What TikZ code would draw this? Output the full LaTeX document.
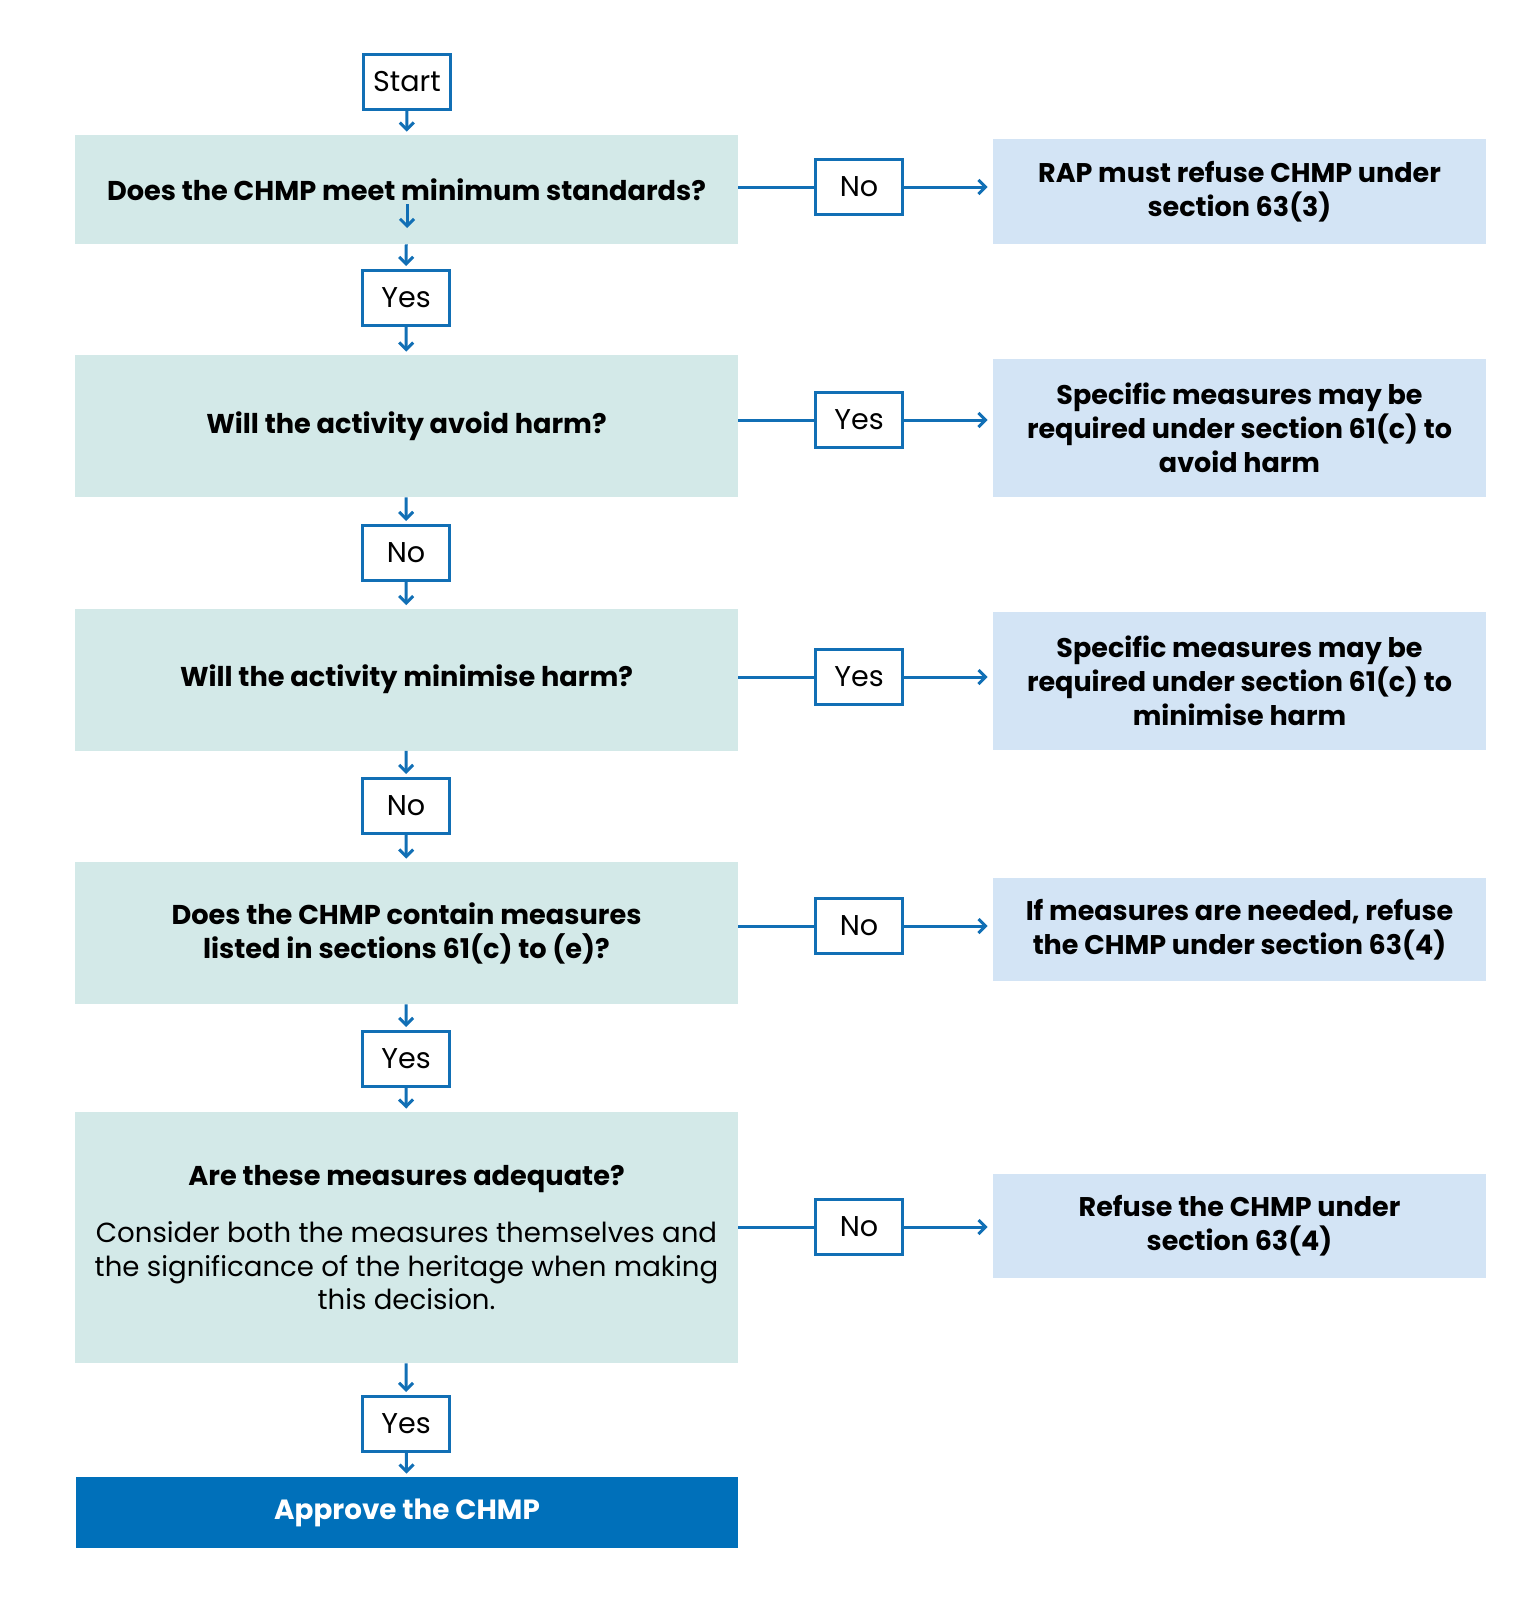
\documentclass[tikz,border=0pt]{standalone}
\usepackage{fontspec}
\setmainfont{Poppins}
\usetikzlibrary{arrows.meta}
\definecolor{qfill}{RGB}{211,233,232}
\definecolor{rfill}{RGB}{211,228,245}
\definecolor{lineblue}{RGB}{17,111,181}
\definecolor{okblue}{RGB}{0,112,186}

\begin{document}
\begin{tikzpicture}[x=0.5pt,y=-0.5pt,
  qbox/.style={fill=qfill, minimum width=331.5pt, inner sep=0pt, align=center, font=\fontsize{13.6}{17}\selectfont\bfseries},
  rbox/.style={fill=rfill, minimum width=246.5pt, inner sep=0pt, align=center, font=\fontsize{13.5}{17}\selectfont\bfseries},
  tag/.style={draw=lineblue, line width=1.5pt, fill=white, minimum width=43.5pt, minimum height=27.5pt, inner sep=0pt, font=\fontsize{14.3}{16}\selectfont},
  arr/.style={draw=lineblue, line width=1.5pt, -{Straight Barb[length=3.5pt,width=7pt]}, shorten >=1.5pt},
  link/.style={draw=lineblue, line width=1.5pt}]
\useasboundingbox (0,0) rectangle (1536,1600);

%Shape: Rectangle
\node [tag] (start) at (407,82) {Start};

% question column
\node [qbox, minimum height=54.5pt] (q1) at (406.5,189.5) {Does the CHMP meet minimum standards?};
\node [tag] (yes1) at (406,298) {Yes};
\node [qbox, minimum height=71pt] (q2) at (406.5,426) {Will the activity avoid harm?};
\node [tag] (no2) at (406,553) {No};
\node [qbox, minimum height=71pt] (q3) at (406.5,679.5) {Will the activity minimise harm?};
\node [tag] (no3) at (406,806) {No};
\node [qbox, minimum height=71pt] (q4) at (406.5,933) {Does the CHMP contain measures\\listed in sections 61(c) to (e)?};
\node [tag] (yes4) at (406,1059) {Yes};
\node [qbox, minimum height=125.5pt, font=\fontsize{13.8}{16.75}\selectfont] (q5) at (406.5,1237.5) {\bfseries\fontsize{13.6}{17}\selectfont Are these measures adequate?\\[12pt]
  Consider both the measures themselves and\\the significance of the heritage when making\\this decision.};
\node [tag] (yes5) at (406,1424) {Yes};
\node [fill=okblue, text=white, minimum width=331pt, minimum height=35.5pt, inner sep=0pt, font=\fontsize{13.9}{16}\selectfont\bfseries] (approve) at (407,1512.5) {Approve the CHMP};

% side tags
\node [tag] (no1) at (859,187) {No};
\node [tag] (yes2) at (859,420) {Yes};
\node [tag] (yes3) at (859,677) {Yes};
\node [tag] (no4) at (859,926) {No};
\node [tag] (no5) at (859,1227) {No};

% result column
\node [rbox, minimum height=52pt] (r1) at (1239.5,191.5) {RAP must refuse CHMP under\\section 63(3)};
\node [rbox, minimum height=69pt] (r2) at (1239.5,428) {Specific measures may be\\required under section 61(c) to\\avoid harm};
\node [rbox, minimum height=69pt] (r3) at (1239.5,681) {Specific measures may be\\required under section 61(c) to\\minimise harm};
\node [rbox, minimum height=51.5pt] (r4) at (1239.5,929.5) {If measures are needed, refuse\\the CHMP under section 63(4)};
\node [rbox, minimum height=52pt] (r5) at (1239.5,1226) {Refuse the CHMP under\\section 63(4)};

%Straight Lines
\coordinate (q1top) at (407,204);
\coordinate (q1bot) at (407,231);
\draw [arr] (q1top) -- (q1bot);
\draw [arr] (start) -- (q1);
\draw [arr] (q1) -- (yes1);
\draw [arr] (yes1) -- (q2);
\draw [arr] (q2) -- (no2);
\draw [arr] (no2) -- (q3);
\draw [arr] (q3) -- (no3);
\draw [arr] (no3) -- (q4);
\draw [arr] (q4) -- (yes4);
\draw [arr] (yes4) -- (q5);
\draw [arr] (q5) -- (yes5);
\draw [arr] (yes5) -- (approve);

\foreach \q/\s/\r in {q1/no1/r1, q2/yes2/r2, q3/yes3/r3, q4/no4/r4, q5/no5/r5}
{
  \draw [link] (\q.east |- \s.west) -- (\s.west);
  \draw [arr, shorten >=2.5pt] (\s.east) -- (\r.west |- \s.east);
}

\end{tikzpicture}
\end{document}
